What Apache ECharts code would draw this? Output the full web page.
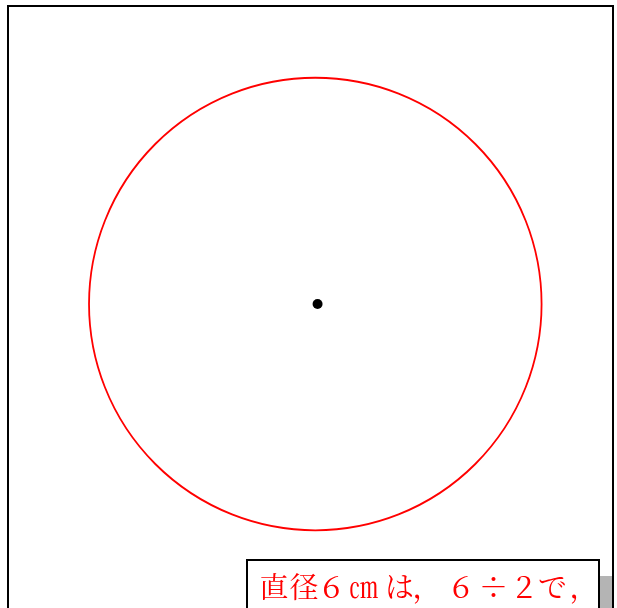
<!DOCTYPE html>
<html>
<head>
<meta charset="utf-8">
<script src="https://cdn.jsdelivr.net/npm/echarts@6/dist/echarts.min.js"></script>
<style>html,body{margin:0;padding:0;background:#fff;}#c{width:617px;height:608px;}</style>
</head>
<body>
<div id="c"></div>
<script>
// circle: centre (cm) and radius (cm) — diameter 6 cm
const centre = [0, 0];
const radius = 3;
const dot = [0.03, 0];
const caption = '直径６㎝は，６÷２で，';

// layout only: horizontal centres of each caption character (px)
const charCentres = [274, 304, 331.5, 363.5, 399.5, 427, 461, 493.5, 524, 552.5, 584];

const chars = Array.from(caption);
const captionTexts = chars.map(function (ch, i) {
  return {
    type: 'text', x: charCentres[i], y: 587, z: 12,
    style: {text: ch, fill: '#ff0000', font: '29px "Noto Serif CJK JP", "Noto Sans CJK JP", serif',
            textVerticalAlign: 'middle', textAlign: 'center'}
  };
});

const chart = echarts.init(document.getElementById('c'), null, {renderer: 'canvas'});
chart.setOption({
  animation: false,
  backgroundColor: '#ffffff',
  grid: {left: 13.6, top: 2, width: 604, height: 604},
  xAxis: {type: 'value', min: -4, max: 4, show: false},
  yAxis: {type: 'value', min: -4, max: 4, show: false},
  series: [
    {
      type: 'custom',
      data: [[centre[0], centre[1], radius]],
      renderItem: function (params, api) {
        const c = api.coord([api.value(0), api.value(1)]);
        const r = api.size([api.value(2), 0])[0];
        return {
          type: 'circle',
          shape: {cx: c[0], cy: c[1], r: r},
          style: {fill: 'none', stroke: '#ff0000', lineWidth: 1.8}
        };
      }
    },
    {
      type: 'scatter',
      data: [dot],
      symbol: 'circle',
      symbolSize: 10,
      itemStyle: {color: '#000000', opacity: 1}
    }
  ],
  graphic: [
    {type: 'rect', shape: {x: 8, y: 6, width: 605, height: 640}, style: {fill: 'none', stroke: '#000', lineWidth: 2}, z: 10},
    {type: 'rect', shape: {x: 599, y: 576, width: 14, height: 60}, style: {fill: '#b4b4b4'}, z: 9},
    {type: 'rect', shape: {x: 247, y: 560, width: 352, height: 80}, style: {fill: '#fff', stroke: '#000', lineWidth: 2}, z: 11}
  ].concat(captionTexts)
});
</script>
</body>
</html>
